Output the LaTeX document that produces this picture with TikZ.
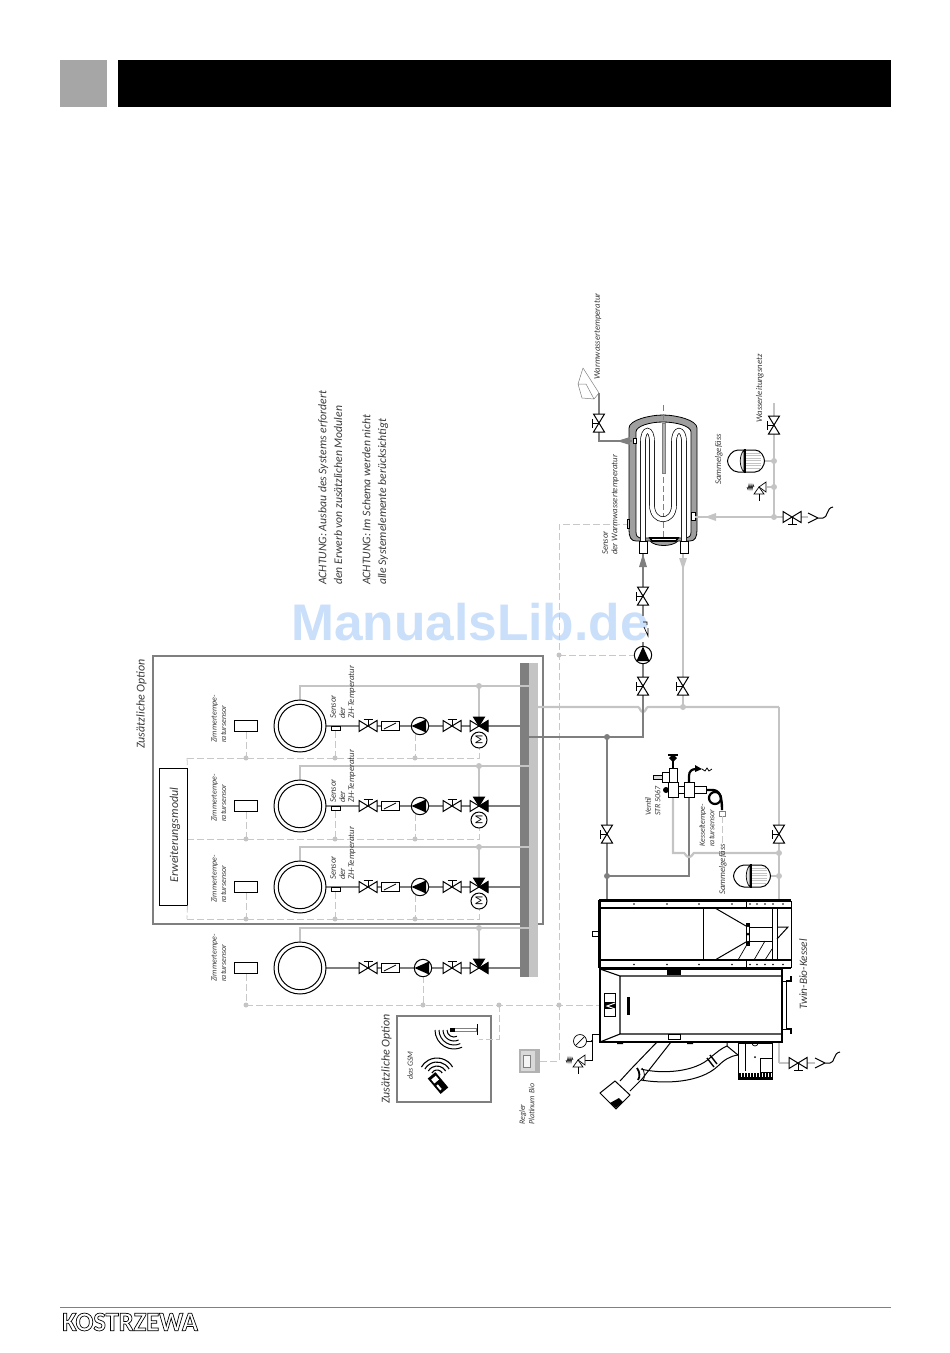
\documentclass[tikz,border=0pt]{standalone}
\usepackage{fontspec}
\setmainfont{Carlito}
\newfontfamily\wmfont{Liberation Sans}
\usepackage{tikz}
\usepackage{xcolor}
\definecolor{hotgray}{HTML}{7F7F7F}
\definecolor{coldgray}{HTML}{C4C4C4}
\definecolor{sigray}{HTML}{C8C8C8}
\definecolor{wmblue}{HTML}{CADFFA}
\definecolor{txtgray}{HTML}{3A3A3A}
\tikzset{
 sym/.style={black,line width=1pt},
 hotpipe/.style={hotgray,line width=2.2pt},
 coldpipe/.style={coldgray,line width=2.2pt},
 sigline/.style={sigray,line width=0.8pt,dash pattern=on 7pt off 3pt},
 thinline/.style={black,line width=0.7pt},
 lbl/.style={rotate=90,anchor=north west,inner sep=0pt,align=left,text=txtgray,font=\fontsize{8}{9.5}\selectfont\itshape},
 widelbl/.style={lbl,font=\fontsize{8.7}{9.5}\selectfont\itshape},
 biglbl/.style={lbl,font=\fontsize{11.7}{15.8}\selectfont\itshape},
 valve/.pic={\draw[sym,fill=white] (-9,-5.5)--(9,5.5)--(9,-5.5)--(-9,5.5)--cycle;
  \draw[sym] (0,0)--(0,-7) (-4.5,-7)--(4.5,-7);},
 pump/.pic={\draw[sym,fill=white] (0,0) circle[radius=8.7pt];
  \fill[black] (-8.5,0)--(6,-6.5)--(6,6.5)--cycle;},
 mixer/.pic={\draw[sym,fill=white] (0,0)--(-9,-5.5)--(-9,5.5)--cycle;
  \draw[sym,fill=black] (0,0)--(9,-5.5)--(9,5.5)--cycle;
  \draw[sym,fill=black] (0,0)--(-5.5,-9)--(5.5,-9)--cycle;},
 motor/.pic={\draw[sym,fill=white] (0,0) circle[radius=8pt];
  \node[rotate=90,inner sep=0pt,font=\fontsize{11}{11}\selectfont] (mlabel) at (0,0) {M};},
 flowbox/.pic={\draw[sym,fill=white] (-9,-4.5) rectangle (9,4.5); \draw[thinline] (-6,3)--(6,-3);},
 radiator/.pic={\draw[sym,fill=white] (0,0) circle[radius=26pt]; \draw[sym] (0,0) circle[radius=21.7pt];},
 vessel/.pic={\draw[sym,fill=white] (-8,-11)--(9,-11) .. controls (15,-11) and (18.5,-4) .. (18.5,0) .. controls (18.5,4) and (15,11) .. (9,11)--(-8,11) .. controls (-14,11) and (-18.5,4) .. (-18.5,0) .. controls (-18.5,-4) and (-14,-11) .. (-8,-11)--cycle;
  \foreach \hy in {-8,-5.5,...,8} {\draw[coldgray,line width=0.6pt] (0,\hy)--(15,\hy);}
  \draw[thinline,fill=gray!25] (-2,-11) .. controls (-7,-6) and (-7,6) .. (-2,11)--cycle;
  \draw[black,line width=1.6pt] (-1,-12)--(-1,12);},
 safety/.pic={\draw[thinline,fill=white] (0,0)--(7,-5)--(7,5)--cycle;
  \draw[thinline,fill=white] (0,0)--(-5,7)--(5,7)--cycle;
  \draw[thinline] (0,7)--(0,14);
  \draw[black,line width=0.6pt] (-5,0)--(-6,-2.5)--(-7,2.5)--(-8,-2.5)--(-9,2.5)--(-10,-2.5)--(-11,2.5)--(-12,0);},
 funnel/.pic={\draw[sym] (0,-5)--(10,0)--(0,5) (10,0)--(15,0) .. controls (20,0) and (18,-10) .. (25,-11);},
}
\begin{document}
\begin{tikzpicture}[x=1pt,y=-1pt]
\useasboundingbox (0,0) rectangle (950,1353);

\node[font=\wmfont\bfseries\fontsize{51.500}{51}\selectfont,text=wmblue,inner sep=0pt] (watermark) at (470,622.500) {ManualsLib.de};

% header and footer
\fill[gray!70] (60,60) rectangle (107,107);
\fill[black] (118,60) rectangle (891,107);
\coordinate (footl) at (60,1307);
\coordinate (footr) at (891,1307);
\draw[gray,line width=1pt] (footl)--(footr);
\node[anchor=west,inner sep=0pt,font=\bfseries\fontsize{27}{27}\selectfont,xscale=0.98] (logo) at (62,1322) {\special{pdf:code 1 Tr 0.7 w}KOSTRZEWA\special{pdf:code 0 Tr}};

% option frames
\draw[hotgray,line width=1.6pt] (153,656) rectangle (543,924);
\draw[hotgray,line width=1.6pt] (397,1016) rectangle (491,1102);
\node[lbl,font=\fontsize{12}{12}\selectfont\itshape] (optiona) at (136,749) {Zusätzliche Option};
\node[lbl,font=\fontsize{12}{12}\selectfont\itshape] (optionb) at (381,1104) {Zusätzliche Option};
\node[lbl] (gsmlabel) at (407,1080) {das GSM};

% manifold
\fill[hotgray] (520,663) rectangle (529,977);
\fill[coldgray] (529,663) rectangle (538,977);

% heating circuits
\foreach \n/\row/\pumpc/\pumpd/\dashy in {a/726/420/415/758, b/806/420/415/839, c/887/420/415/919, d/968/423/423/1005} {
 \coordinate (rad\n) at (326,\row);
 \coordinate (bar\n) at (520,\row);
 \coordinate (radtop\n) at (300,\row-26);
 \coordinate (ret\n) at (529,\row-40);
 \coordinate (retdot\n) at (479,\row-40);
 \coordinate (mixtop\n) at (479,\row-8);
 \coordinate (room\n) at (246,\row+6);
 \coordinate (roomdot\n) at (246,\dashy);
 \coordinate (pumpb\n) at (\pumpd,\row+8);
 \coordinate (pumpdot\n) at (\pumpd,\dashy);
 \draw[hotpipe] (rad\n)--(bar\n);
 \draw[coldpipe] (radtop\n)|-(ret\n);
 \draw[coldpipe] (retdot\n)--(mixtop\n);
 \fill[coldgray] (retdot\n) circle[radius=3pt];
 \draw[sigline] (room\n)--(roomdot\n);
 \draw[sigline] (pumpb\n)--(pumpdot\n);
 \fill[coldgray] (roomdot\n) circle[radius=2.5pt] (pumpdot\n) circle[radius=2.5pt];
 \pic at (300,\row) {radiator};
 \draw[sym,fill=white] (234.500,\row-6) rectangle (257,\row+5);
 \pic at (368,\row) {valve};
 \pic at (390,\row) {flowbox};
 \pic at (\pumpc,\row) {pump};
 \pic at (452,\row) {valve};
 \pic at (479,\row) {mixer};
}
\foreach \n/\row/\dashy/\labely in {a/726/758/719, b/806/839/803, c/887/919/880} {
 \coordinate (sens\n) at (335,\row+5);
 \coordinate (sensdot\n) at (335,\dashy);
 \coordinate (modlink\n) at (187,\dashy);
 \coordinate (motorb\n) at (479,\row+22);
 \draw[sigline] (modlink\n)-|(motorb\n);
 \draw[sigline] (sens\n)--(sensdot\n);
 \fill[coldgray] (sensdot\n) circle[radius=2.5pt];
 \draw[thinline,fill=white] (331,\row) rectangle (340,\row+4.500);
 \pic at (479,\row+14) {motor};
 \node[lbl,font=\fontsize{8.7}{9.2}\selectfont\itshape] (senslabel\n) at (330,\labely) {Sensor\\der\\ZH-Temperatur};
}
\node[lbl] (rooma) at (211,743) {Zimmertempe-\\ratursensor};
\node[lbl] (roomb) at (211,822) {Zimmertempe-\\ratursensor};
\node[lbl] (roomc) at (211,903) {Zimmertempe-\\ratursensor};
\node[lbl] (roomd) at (211,982) {Zimmertempe-\\ratursensor};

% module
\node[draw=black,line width=1pt,minimum width=28pt,minimum height=137pt,inner sep=0pt,fill=white] (module) at (173,836.500) {};
\node[rotate=90,inner sep=0pt,text=txtgray,font=\fontsize{12}{12}\selectfont\itshape] (modlabel) at (175,835) {Erweiterungsmodul};
\draw[sigline] (modlinka)--(module.north east);
\draw[sigline] (module.south east)--(modlinkc);

% signal lines
\coordinate (boilerl) at (600,1005);
\coordinate (gsmdot) at (499,1005);
\coordinate (antenna) at (479,1039);
\coordinate (busdot) at (559,1005);
\coordinate (pumpdot) at (559,655);
\coordinate (busturn) at (559,524);
\coordinate (tanksens) at (627,524);
\coordinate (regler) at (540,1061);
\coordinate (mainpumpl) at (634,655);
\draw[sigline] (roomdotd)--(boilerl);
\draw[sigline] (gsmdot)|-(antenna);
\draw[sigline] (regler)-|(busturn)--(tanksens);
\draw[sigline] (pumpdot)--(mainpumpl);
\fill[coldgray] (gsmdot) circle[radius=2.5pt] (busdot) circle[radius=2.5pt] (pumpdot) circle[radius=2.5pt];

% gsm
\draw[gray,line width=0.6pt,fill=white] (450,1028.500) rectangle (476,1031.500);
\draw[sym] (477,1024)--(477,1035);
\fill[black] (450,1028) rectangle (455,1032);
\foreach \r in {7,11,15,19} {\draw[black,line width=1pt] (454,1030) ++(180:\r pt) arc (180:295:\r pt);}
\foreach \r in {6,10,14,18} {\draw[black,line width=1.1pt] (437,1076) ++(30:\r pt) arc (30:150:\r pt);}
\fill[black,rotate around={40:(438,1083)}] (433,1073) rectangle (443,1093);
\fill[white,rotate around={40:(438,1083)}] (435,1076) rectangle (441,1081);
\fill[white,rotate around={40:(438,1083)}] (435,1084) rectangle (437,1090);

% controller
\node[fill=gray!60,minimum width=21pt,minimum height=24pt,inner sep=0pt] (reglerbox) at (529.500,1061) {};
\fill[gray!30] (521,1051) rectangle (535,1071);
\node[fill=gray!8,draw=gray,line width=0.5pt,minimum width=7pt,minimum height=12pt,inner sep=0pt] (reglerscreen) at (526.500,1061) {};
\node[lbl] (reglerlabel) at (519,1125) {Regler\\Platinum Bio};

% gauge and safety valve
\coordinate (flowa) at (600,1034);
\coordinate (flowb) at (592,1041);
\coordinate (flowc) at (585,1060);
\coordinate (gauge) at (580,1041);
\draw[thinline] (flowa)-|(flowb);
\draw[thinline] (flowb)|-(flowc);
\fill[black] (flowb) circle[radius=1.2pt];
\draw[thinline] (gauge)--(flowb);
\draw[thinline,fill=white] (gauge) circle[radius=6.5pt];
\draw[thinline] (576,1045)--(584,1037);
\pic at (578,1060) {safety};

% system pipes
\coordinate (coldbar) at (538,707);
\coordinate (coldend) at (779,707);
\coordinate (coldstub) at (683,553);
\coordinate (colddot) at (683,707);
\coordinate (coldlow) at (779,1063);
\coordinate (hotbar) at (529,737);
\coordinate (hotturn) at (643,737);
\coordinate (hotgap) at (643,642);
\coordinate (hotgapb) at (643,616);
\coordinate (hotstub) at (643,553);
\coordinate (hotdot) at (607,737);
\coordinate (hotlow) at (607,900);
\coordinate (hotdotb) at (607,876);
\coordinate (strhot) at (689,797);
\coordinate (strcold) at (673,797);
\coordinate (coldturn) at (673,853);
\coordinate (colddotb) at (779,853);
\coordinate (vesseldot) at (779,876);
\draw[coldpipe] (coldbar)--(638,707) .. controls (640,707) and (640,712) .. (643,712) .. controls (646,712) and (646,707) .. (648,707)--(coldend);
\draw[hotpipe] (hotbar)-|(hotgap);
\draw[hotpipe] (hotgapb)--(hotstub);
\draw[coldpipe] (colddot)--(coldstub);
\draw[hotpipe] (hotdot)--(hotlow);
\draw[hotpipe] (hotdotb)-|(strhot);
\draw[coldpipe] (strcold)--(coldturn)--(684,853) .. controls (685,853) and (686,857) .. (689,857) .. controls (692,857) and (693,853) .. (694,853)--(colddotb);
\draw[coldpipe] (coldend)|-(coldlow);
\draw[coldpipe] (coldlow)--(815,1063);
\fill[hotgray] (hotdot) circle[radius=3pt] (hotdotb) circle[radius=3pt];
\fill[coldgray] (colddot) circle[radius=3pt] (colddotb) circle[radius=3pt] (vesseldot) circle[radius=3pt];
\draw[coldpipe] (vesseldot)--(770,876);
\pic[rotate=90] at (643,686) {valve};
\pic[rotate=90] at (683,686) {valve};
\pic[rotate=90] at (607,834) {valve};
\pic[rotate=90] at (779,834) {valve};
\pic[rotate=90] at (643,596) {valve};
\pic[rotate=-90] at (643,655) {pump};
\pic at (752,876) {vessel};
\pic[rotate=180] at (798,1063) {valve};
\pic at (815,1063) {funnel};
\draw[thinline] (643,622)--(647,622)--(647,625) (644,627)--(648,636)--(648,628);

% str valve
\draw[black,line width=0.8pt,fill=white] (668,782) rectangle (678,797);
\draw[black,line width=0.8pt,fill=white] (684,782) rectangle (694,797);
\draw[black,line width=0.8pt,fill=white] (678,786) rectangle (684,793);
\draw[black,line width=0.8pt,fill=white] (694,786) rectangle (706,793);
\fill[black] (666,790) circle[radius=3pt];
\draw[black,line width=0.8pt,fill=white] (669,768) rectangle (677,782);
\draw[black,line width=0.8pt,fill=gray!30] (653,775) rectangle (662,779);
\draw[black,line width=0.8pt,fill=white] (662,772) rectangle (669,782);
\draw[black,line width=1.4pt] (673,768)--(673,758);
\draw[black,line width=1.4pt] (668,755)--(678,755);
\fill[black] (673,754)--(677,758)--(673,762)--(669,758)--cycle;
\draw[black,line width=2.2pt] (689,782)--(689,776) .. controls (689,771) and (692,769) .. (696,769);
\fill[black] (695,765)--(702,769)--(695,772)--cycle;
\draw[black,line width=0.8pt] (702,769)--(705,771)--(707,768)--(709,771)--(712,769);
\draw[black,line width=2.4pt] (706,790)--(712,790) .. controls (719,790) and (722,795) .. (722,810);
\draw[black,line width=2.2pt] (715,798) circle[radius=6pt];
\draw[gray,line width=0.6pt,fill=white] (719,811) rectangle (725,816);
\coordinate (kesselsens) at (722,816);
\coordinate (kesselend) at (722,845);
\draw[sigline] (kesselsens)--(kesselend);
\node[lbl] (strlabel) at (645,816) {Ventil\\STR 5067};
\node[lbl] (kessellabel) at (699,847) {Kesseltempe-\\ratursensor};
\node[widelbl] (vessellabela) at (719,895) {Sammelgefäss};

% boiler, pellet store
\draw[black,line width=1pt,fill=white] (599,901) rectangle (791,967);
\fill[white] (601,908) rectangle (791,960);
\draw[black,line width=1.4pt] (599,900)--(791,900) (599,960)--(791,960) (599,908)--(791,908) (599,968)--(791,968);
\fill[black] (597.500,900) rectangle (600.500,968);
\draw[thinline] (746,901)--(746,907) (746,961)--(746,967);
\foreach \dx in {634,667,699,732,750,757,765,773,783} {
 \fill[black] (\dx,904) circle[radius=0.9pt];
 \fill[black] (\dx,964.500) circle[radius=0.9pt];
}
\draw[sym] (703,908)--(703,960);
\draw[sym] (715,908)--(746,926) (715,960)--(746,942);
\draw[sym] (746,923) rectangle (749,945);
\fill[black] (748,925) circle[radius=2pt] (748,934) circle[radius=1.5pt] (748,943) circle[radius=2pt];
\draw[thinline] (749,927) rectangle (772,941);
\draw[sym] (772,908)--(772,960);
\draw[thinline] (777,908)--(777,960);
\draw[sym] (777,927)--(788,927)--(777,939);
\draw[thinline] (738,960)--(749,941) (754,960)--(765,941) (765,960)--(772,949);
\draw[thinline] (592,931) rectangle (598,936);

% boiler, body
\draw[black,line width=1.4pt,fill=white] (600,969) rectangle (782,1042);
\draw[black,line width=1.1pt] (620,976)--(782,976) (620,1034)--(782,1034) (620,976)--(620,1034) (600,969)--(620,976) (600,1042)--(620,1034);
\fill[black] (604,993) rectangle (616,1017);
\fill[white] (605,994) rectangle (615,1002);
\fill[white] (605,1009) rectangle (615,1016);
\draw[white,line width=1pt] (615,1003)--(607,1006)--(615,1009);
\fill[black] (627,997) rectangle (630,1015);
\fill[black] (667,969) rectangle (681,975);
\draw[thinline,fill=white] (668,1034) rectangle (680,1039);
\draw[thinline] (782,981) rectangle (786,1029);
\draw[black,line width=1.4pt] (786,981)--(791,981)--(791,976) (786,1029)--(791,1029)--(791,1034);
\fill[black] (617,1042) rectangle (623,1044) (687,1042) rectangle (693,1044);
\node[biglbl,font=\fontsize{11.300}{11}\selectfont\itshape] (boilerlabel) at (799,1010) {Twin-Bio-Kessel};

% burner and feeder
\draw[sym] (657,1042)--(631,1069) (671,1042)--(642,1079);
\draw[sym] (631,1069)--(620,1081) (642,1079)--(630,1091);
\draw[sym,fill=white] (600,1093)--(615,1081)--(630,1095)--(616,1109)--cycle;
\fill[black] (610,1103)--(619,1098)--(623,1102)--(616,1108)--cycle;
\draw[sym] (641,1069) .. controls (660,1074) and (695,1073) .. (711,1057) .. controls (717,1052) and (722,1048) .. (727,1046);
\draw[sym] (641,1080) .. controls (665,1084) and (700,1083) .. (718,1066) .. controls (724,1060) and (730,1056) .. (738,1055);
\draw[black,line width=1.8pt] (637,1068) .. controls (640,1072) and (640,1077) .. (638,1080);
\draw[black,line width=0.8pt] (642,1068) .. controls (645,1072) and (645,1077) .. (643,1081);
\draw[black,line width=1.4pt] (707,1058)--(714,1067) (710,1055)--(717,1064);
\draw[sym] (727,1046)--(727,1042) (727,1046)--(738,1055);
\draw[sym,fill=white] (738,1043) rectangle (772,1079);
\draw[thinline] (745,1043)--(745,1071);
\draw[thinline] (760,1058) rectangle (772,1072);
\fill[black] (738,1073) rectangle (772,1079);
\foreach \dy in {741,744,...,771} {\draw[white,line width=0.5pt] (\dy,1073)--(\dy,1077);}
\fill[black] (755,1057) circle[radius=1pt];
\draw[thinline] (752,1043) arc (180:360:3pt);

% tank
\draw[black,line width=0.8pt,fill=gray!75] (629,530)--(629,428) .. controls (629,420) and (650,415) .. (663,415) .. controls (676,415) and (697,420) .. (697,428)--(697,530) .. controls (697,537) and (695,541) .. (690,541)--(678,541) .. controls (672,547) and (655,547) .. (650,541)--(636,541) .. controls (631,541) and (629,537) .. (629,530)--cycle;
\draw[black,line width=0.8pt,fill=white] (636,532)--(636,432) .. controls (636,426) and (650,422) .. (663,422) .. controls (676,422) and (691,426) .. (691,432)--(691,532) .. controls (691,536) and (689,538) .. (686,538)--(640,538) .. controls (638,538) and (636,536) .. (636,532)--cycle;
\draw[gray,line width=0.4pt,dash pattern=on 6pt off 3pt] (663,405)--(663,538);
\draw[gray,line width=0.5pt,fill=gray!60] (662,423) rectangle (665,473);
\draw[black,line width=5.6pt] (643,544)--(643,442) .. controls (643,427) and (652,427) .. (652,442)--(652,505) .. controls (652,524) and (674,524) .. (674,505)--(674,442) .. controls (674,427) and (684,427) .. (684,442)--(684,544);
\draw[white,line width=4.2pt] (643,544)--(643,442) .. controls (643,427) and (652,427) .. (652,442)--(652,505) .. controls (652,524) and (674,524) .. (674,505)--(674,442) .. controls (674,427) and (684,427) .. (684,442)--(684,544);
\draw[black,line width=1.6pt,fill=white] (650,538)--(678,538)--(676,541)--(652,541)--cycle;
\draw[thinline,fill=white] (639,541) rectangle (647,553);
\draw[thinline,fill=white] (680,541) rectangle (688,553);
\draw[thinline,fill=gray!40] (627,519) rectangle (629,528);
\draw[thinline,fill=white] (633,438) rectangle (636,443);
\draw[thinline,fill=white] (691,512) rectangle (695,520);

% tank connections
\coordinate (hotout) at (632,441);
\coordinate (hotturnb) at (599,441);
\coordinate (tapin) at (599,393);
\coordinate (coldin) at (695,517);
\coordinate (mains) at (774,517);
\coordinate (mainstop) at (774,403);
\coordinate (maindota) at (774,461);
\coordinate (maindotb) at (774,487);
\draw[hotpipe] (hotout)-|(tapin);
\draw[coldpipe] (coldin)--(mains)--(mainstop);
\draw[coldpipe] (mains)--(808,517);
\draw[coldpipe] (maindota)--(765,461);
\draw[coldpipe] (maindotb)--(767,487);
\fill[coldgray] (mains) circle[radius=3pt] (maindota) circle[radius=3pt] (maindotb) circle[radius=3pt];
\fill[hotgray] (617,441)--(630,437)--(630,445)--cycle;
\fill[coldgray] (705,517)--(716,513)--(716,521)--cycle;
\fill[hotgray] (643,554)--(639,567)--(647,567)--cycle;
\fill[coldgray] (683,570)--(679,558)--(687,558)--cycle;
\pic[rotate=90] at (599,423) {valve};
\pic[rotate=90] at (774,425) {valve};
\pic[rotate=180] at (792,517) {valve};
\pic at (808,518) {funnel};
\pic at (746,461) {vessel};
\pic at (759,487) {safety};
\draw[gray,line width=0.5pt] (599,393)--(583,368) (578,384)--(582,398)--(594,399)--(599,393) (578,384)--(586,384)--(594,399) (578,384)--(583,368);

\node[widelbl] (warmlabel) at (594,380) {Warmwassertemperatur};
\node[widelbl] (netzlabel) at (756,423) {Wasserleitungsnetz};
\node[widelbl] (vessellabelb) at (715,485) {Sammelgefäss};
\node[widelbl] (tanksenslabel) at (602,555) {Sensor\\der Warmwassertemperatur};

% notes
\node[biglbl] (notea) at (318,585) {ACHTUNG: Ausbau des Systems erfordert\\den Erwerb von zusätzlichen Modulen};
\node[biglbl] (noteb) at (362,585) {ACHTUNG: Im Schema werden nicht\\alle Systemelemente berücksichtigt};
\end{tikzpicture}
\end{document}
